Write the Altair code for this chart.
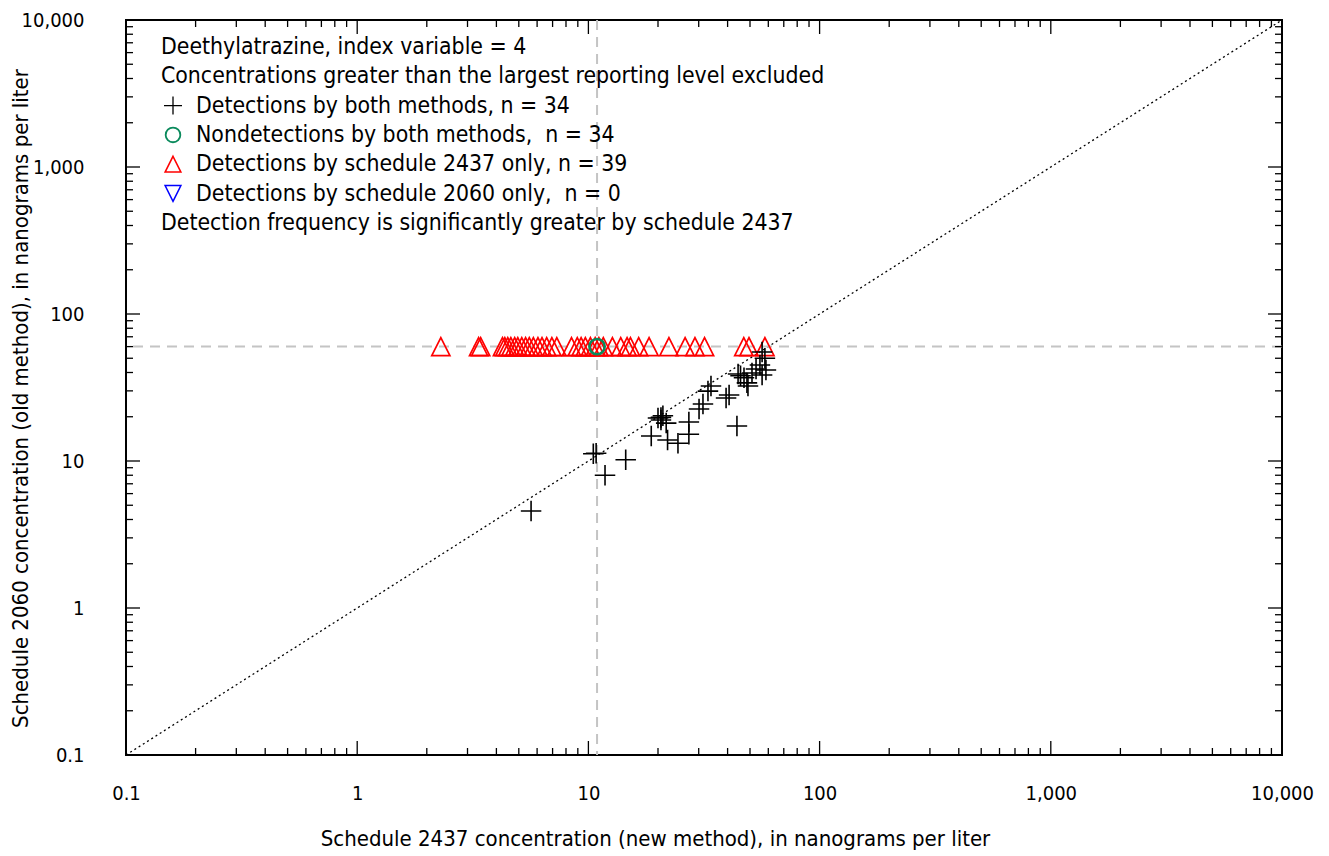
import altair as alt
import pandas as pd

# ---- data ----
# Detections by both methods (x = schedule 2437, y = schedule 2060), ng/L
both_x = [5.65, 10.5, 10.8, 11.8, 14.5, 18.7, 20.0, 20.6, 21.7, 22.0, 24.4, 27.2, 27.2,
          30.1, 31.3, 32.9, 33.9, 39.4, 40.6, 43.9, 44.4, 47.1, 48.5, 49.0, 51.0, 53.1,
          55.2, 56.4, 58.6, 56.4, 20.6, 58.0, 21.0, 45.5]
both_y = [4.57, 11.2, 11.3, 8.0, 10.2, 14.8, 19.6, 19.0, 18.1, 13.9, 13.2, 15.2, 18.4,
          22.6, 24.4, 29.9, 32.4, 26.8, 28.1, 17.3, 39.1, 36.8, 34.0, 32.4, 39.7, 42.3,
          45.0, 38.5, 41.6, 55.1, 19.8, 50.0, 20.3, 38.0]

# Detections by schedule 2437 only (plotted at old-method reporting level)
tri_x = [2.30, 3.35, 3.42, 4.25, 4.35, 4.48, 4.62, 4.80, 4.95, 5.15, 5.35, 5.55, 5.78,
         6.05, 6.30, 6.60, 6.95, 7.30, 8.45, 8.95, 9.30, 9.70, 10.2, 10.7, 11.1, 11.6,
         12.7, 13.8, 14.7, 15.2, 16.5, 18.3, 22.3, 26.2, 28.9, 31.8, 47.0, 49.5, 58.0]
rl_old = 60.0   # largest reporting level, schedule 2060
rl_new = 10.9   # largest reporting level, schedule 2437

# Nondetections by both methods (n = 34, all at the reporting levels)
nd_x = [rl_new]
nd_y = [rl_old]

tick_values = [0.1, 1, 10, 100, 1000, 10000]
tick_labels = ["0.1", "1", "10", "100", "1,000", "10,000"]
minor_mult = [2, 3, 4, 5, 6, 7, 8, 9]

legend_lines = [
    "Deethylatrazine, index variable = 4",
    "Concentrations greater than the largest reporting level excluded",
    "Detections by both methods, n = 34",
    "Nondetections by both methods,\u00a0 n = 34",
    "Detections by schedule 2437 only, n = 39",
    "Detections by schedule 2060 only,\u00a0 n = 0",
    "Detection frequency is significantly greater by schedule 2437",
]

# ---- layout ----
W, H = 1156, 735
FONT = "'Liberation Sans Narrow', 'DejaVu Sans Condensed', Roboto, sans-serif"
GREEN = "#0a8a5c"

label_expr = " : ".join(
    f"datum.value == {v} ? '{l}'" for v, l in zip(tick_values, tick_labels)
) + " : ''"

xscale = alt.Scale(type="log", domain=[0.1, 10000], nice=False)
yscale = alt.Scale(type="log", domain=[0.1, 10000], nice=False)

xaxis = alt.Axis(values=tick_values, labelExpr=label_expr, ticks=False, domain=False,
                 grid=False, labelPadding=28, labelFontSize=20, labelFont=FONT, labelFlush=False,
                 labelColor="black", title="Schedule 2437 concentration (new method), in nanograms per liter",
                 titleFont=FONT, titleFontSize=22, titleFontWeight="normal", titleColor="black",
                 titleX=529, titleY=83, titleBaseline="middle", titleAnchor="start", titleAlign="center")
yaxis = alt.Axis(values=tick_values, labelExpr=label_expr, ticks=False, domain=False,
                 grid=False, labelPadding=42, labelFontSize=20, labelFont=FONT, labelFlush=False,
                 labelColor="black", title="Schedule 2060 concentration (old method), in nanograms per liter",
                 titleFont=FONT, titleFontSize=22, titleFontWeight="normal", titleColor="black",
                 titleX=-106, titleY=378, titleBaseline="middle", titleAngle=-90,
                 titleAlign="center", titleAnchor="start")

def X(field="x"):
    return alt.X(f"{field}:Q", scale=xscale, axis=xaxis)

def Y(field="y"):
    return alt.Y(f"{field}:Q", scale=yscale, axis=yaxis)

# 1:1 line
one = pd.DataFrame({"x": [tick_values[0], tick_values[-1]], "y": [tick_values[0], tick_values[-1]]})
line = alt.Chart(one).mark_line(color="black", strokeDash=[2, 3], strokeWidth=1.3).encode(
    x=X(), y=Y())

# reporting level lines
vrule = alt.Chart(pd.DataFrame({"x": [rl_new]})).mark_rule(
    color="#c4c4c4", strokeDash=[10, 7], strokeWidth=2).encode(x=X())
hrule = alt.Chart(pd.DataFrame({"y": [rl_old]})).mark_rule(
    color="#c4c4c4", strokeDash=[10, 7], strokeWidth=2).encode(y=Y())

CROSS = "M-1,0H1M0,-1V1"
TRI_UP = "M0,-1L1,1L-1,1Z"
TRI_DN = "M0,1L1,-1L-1,-1Z"

tris = alt.Chart(pd.DataFrame({"x": tri_x, "y": [rl_old] * len(tri_x)})).mark_point(
    shape=TRI_UP, size=330, color="red", filled=False, strokeWidth=1.7, opacity=1).encode(x=X(), y=Y())

nd = alt.Chart(pd.DataFrame({"x": nd_x, "y": nd_y})).mark_point(
    shape="circle", size=235, color=GREEN, filled=False, strokeWidth=2.6, opacity=1).encode(x=X(), y=Y())

crosses = alt.Chart(pd.DataFrame({"x": both_x, "y": both_y})).mark_point(
    shape=CROSS, size=420, color="black", filled=False, strokeWidth=1.6, opacity=1).encode(x=X(), y=Y())

# inward ticks on all four edges
major = pd.DataFrame({"v": tick_values})
minor = pd.DataFrame({"v": [m * d for d in tick_values[:-1] for m in minor_mult]})
tick_layers = []
for df, ln in [(major, 14), (minor, 7)]:
    base = alt.Chart(df).mark_rule(color="black", strokeWidth=1.3)
    tick_layers += [
        base.encode(x=X("v"), y=alt.value(H), y2=alt.value(H - ln)),
        base.encode(x=X("v"), y=alt.value(0), y2=alt.value(ln)),
        base.encode(y=Y("v"), x=alt.value(0), x2=alt.value(ln)),
        base.encode(y=Y("v"), x=alt.value(W), x2=alt.value(W - ln)),
    ]

# annotation block (top-left)
ys = [27 + 29.3 * i for i in range(len(legend_lines))]
xs = [35, 35, 70, 70, 70, 70, 35]
leg_df = pd.DataFrame({"t": legend_lines, "px": xs, "py": ys})
legend_text = alt.Chart(leg_df).mark_text(
    align="left", baseline="middle", font=FONT, fontSize=22.8, color="black").encode(
    text="t:N", x=alt.X("px:Q", scale=None), y=alt.Y("py:Q", scale=None))

sym_x = 47
sym = [
    alt.Chart(pd.DataFrame({"a": [0]})).mark_point(shape=CROSS, size=324, color="black",
        filled=False, strokeWidth=1.3, opacity=1).encode(x=alt.value(sym_x), y=alt.value(ys[2])),
    alt.Chart(pd.DataFrame({"a": [0]})).mark_point(shape="circle", size=215, color=GREEN,
        filled=False, strokeWidth=1.8, opacity=1).encode(x=alt.value(sym_x), y=alt.value(ys[3])),
    alt.Chart(pd.DataFrame({"a": [0]})).mark_point(shape=TRI_UP, size=250, color="red",
        filled=False, strokeWidth=1.5, opacity=1).encode(x=alt.value(sym_x), y=alt.value(ys[4])),
    alt.Chart(pd.DataFrame({"a": [0]})).mark_point(shape=TRI_DN, size=250, color="blue",
        filled=False, strokeWidth=1.5, opacity=1).encode(x=alt.value(sym_x), y=alt.value(ys[5])),
]

chart = alt.layer(line, vrule, hrule, tris, nd, crosses, *tick_layers, legend_text, *sym).properties(
    width=W, height=H,
    background="white",
    autosize=alt.AutoSizeParams(type="none"),
    padding={"left": 118, "top": 12, "right": 39, "bottom": 101},
).configure_view(stroke="black", strokeWidth=2)

chart.save("out.html", embed_options={"renderer": "svg", "actions": False})
